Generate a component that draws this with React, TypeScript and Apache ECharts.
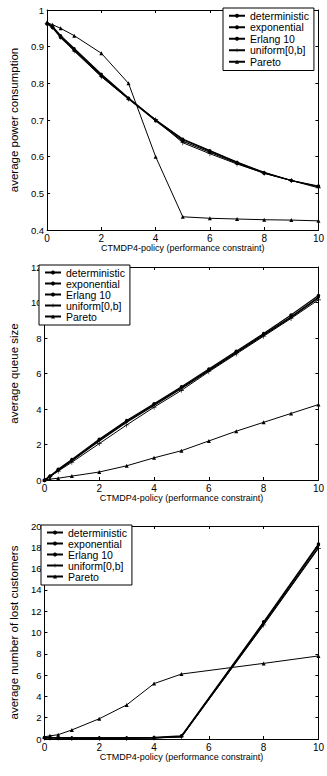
import React, { useEffect, useRef } from "react";
import * as echarts from "echarts";

const seriesNames = ["deterministic", "exponential", "Erlang 10", "uniform[0,b]", "Pareto"];
const xLabel = "CTMDP4-policy (performance constraint)";
const yLabels = ["average power consumption", "average queue size", "average number of lost customers"];

// Chart 1: average power consumption
const powerX = [0, 0.2, 0.5, 1, 2, 3, 4, 5, 6, 7, 8, 9, 10];
const powerDeterministic = [0.965, 0.955, 0.93, 0.895, 0.825, 0.76, 0.7, 0.648, 0.617, 0.585, 0.557, 0.535, 0.518];
const powerExponential = [0.962, 0.952, 0.925, 0.89, 0.82, 0.758, 0.698, 0.642, 0.612, 0.582, 0.555, 0.535, 0.52];
const powerErlang = [0.965, 0.954, 0.928, 0.893, 0.823, 0.759, 0.7, 0.646, 0.615, 0.584, 0.556, 0.535, 0.518];
const powerUniform = [0.964, 0.953, 0.927, 0.888, 0.818, 0.757, 0.701, 0.638, 0.608, 0.58, 0.555, 0.535, 0.515];
const powerPareto = [0.965, 0.96, 0.95, 0.93, 0.882, 0.8, 0.6, 0.436, 0.432, 0.43, 0.428, 0.427, 0.425];

// Chart 2: average queue size
const queueX = [0, 0.2, 0.5, 1, 2, 3, 4, 5, 6, 7, 8, 9, 10];
const queueDeterministic = [0, 0.2, 0.55, 1.1, 2.25, 3.3, 4.25, 5.2, 6.2, 7.2, 8.2, 9.2, 10.3];
const queueExponential = [0, 0.22, 0.6, 1.15, 2.3, 3.35, 4.3, 5.25, 6.25, 7.25, 8.25, 9.3, 10.4];
const queueErlang = [0, 0.2, 0.55, 1.08, 2.2, 3.25, 4.2, 5.15, 6.15, 7.15, 8.15, 9.15, 10.25];
const queueUniform = [0, 0.18, 0.5, 1.0, 2.05, 3.1, 4.1, 5.05, 6.1, 7.1, 8.1, 9.1, 10.15];
const queuePareto = [0, 0.05, 0.1, 0.22, 0.45, 0.8, 1.25, 1.65, 2.2, 2.75, 3.25, 3.75, 4.25];

// Chart 3: average number of lost customers
const lostX = [0, 0.2, 0.5, 1, 2, 3, 4, 5, 8, 10];
const lostDeterministic = [0.1, 0.1, 0.1, 0.1, 0.1, 0.1, 0.1, 0.25, 10.9, 18.2];
const lostExponential = [0.15, 0.15, 0.1, 0.1, 0.1, 0.1, 0.15, 0.3, 11.0, 18.3];
const lostErlang = [0.1, 0.1, 0.1, 0.1, 0.1, 0.1, 0.1, 0.2, 10.8, 18.0];
const lostUniform = [0.1, 0.1, 0.1, 0.05, 0.05, 0.05, 0.1, 0.2, 10.7, 17.9];
const lostPareto = [0.2, 0.3, 0.4, 0.85, 1.9, 3.2, 5.2, 6.1, 7.1, 7.8];

const xTicks = { min: 0, max: 10, interval: 2 };
const yRanges = [
  { min: 0.4, max: 1, interval: 0.1 },
  { min: 0, max: 12, interval: 2 },
  { min: 0, max: 20, interval: 2 },
];

const FONT = "Liberation Sans, Arial, Helvetica, sans-serif";
const PLUS = "path://M4.4,0H5.6V4.4H10V5.6H5.6V10H4.4V5.6H0V4.4H4.4Z";
const symbols = [
  { symbol: "circle", size: 3, width: 1.2 },
  { symbol: "circle", size: 3.5, width: 1.2 },
  { symbol: "none", size: 0, width: 1.2 },
  { symbol: PLUS, size: 5, width: 1 },
  { symbol: "triangle", size: 4, width: 1 },
];

const zip = (xs: number[], ys: number[]) => xs.map((x, i) => [x, ys[i]]);

const chartData = [
  { x: powerX, ys: [powerDeterministic, powerExponential, powerErlang, powerUniform, powerPareto] },
  { x: queueX, ys: [queueDeterministic, queueExponential, queueErlang, queueUniform, queuePareto] },
  { x: lostX, ys: [lostDeterministic, lostExponential, lostErlang, lostUniform, lostPareto] },
];

const grids = [
  { left: 39, top: 10, width: 281, height: 220 },
  { left: 39, top: 267, width: 280, height: 213 },
  { left: 42, top: 526, width: 279, height: 213 },
];
const legends = [
  { left: 223, top: 8, lh: 11.5 },
  { left: 39, top: 265, lh: 10.6 },
  { left: 41, top: 525, lh: 10.8 },
];

const fmt = (v: number) => String(+v.toFixed(2));

export default function App() {
  const ref = useRef<HTMLDivElement>(null);
  useEffect(() => {
    if (!ref.current) return;
    const chart = echarts.init(ref.current, null, { renderer: "svg" });
    const xAxis: any[] = [];
    const yAxis: any[] = [];
    const series: any[] = [];
    grids.forEach((g, gi) => {
      xAxis.push({
        type: "value",
        gridIndex: gi,
        ...xTicks,
        position: "bottom",
        name: xLabel,
        nameLocation: "middle",
        nameGap: 13,
        nameTextStyle: { fontFamily: FONT, fontSize: 9, color: "#000" },
        axisLine: { show: true, onZero: false, lineStyle: { color: "#000", width: 1 } },
        axisTick: { show: true, inside: true, length: 3, lineStyle: { color: "#000" } },
        axisLabel: { fontFamily: FONT, fontSize: 10, color: "#000", margin: 3, formatter: fmt },
        splitLine: { show: false },
      });
      xAxis.push({
        type: "value",
        gridIndex: gi,
        ...xTicks,
        position: "top",
        axisLine: { show: true, onZero: false, lineStyle: { color: "#000", width: 1 } },
        axisTick: { show: true, inside: true, length: 3, lineStyle: { color: "#000" } },
        axisLabel: { show: false },
        splitLine: { show: false },
      });
      yAxis.push({
        type: "value",
        gridIndex: gi,
        ...yRanges[gi],
        position: "left",
        name: yLabels[gi],
        nameLocation: "middle",
        nameGap: 15,
        nameRotate: 90,
        nameTextStyle: { fontFamily: FONT, fontSize: 11.5, color: "#000" },
        axisLine: { show: true, onZero: false, lineStyle: { color: "#000", width: 1 } },
        axisTick: { show: true, inside: true, length: 3, lineStyle: { color: "#000" } },
        axisLabel: { fontFamily: FONT, fontSize: 9.5, color: "#000", margin: 3, formatter: fmt },
        splitLine: { show: false },
      });
      yAxis.push({
        type: "value",
        gridIndex: gi,
        ...yRanges[gi],
        position: "right",
        axisLine: { show: true, onZero: false, lineStyle: { color: "#000", width: 1 } },
        axisTick: { show: true, inside: true, length: 3, lineStyle: { color: "#000" } },
        axisLabel: { show: false },
        splitLine: { show: false },
      });
      const d = chartData[gi];
      seriesNames.forEach((name, si) => {
        const s = symbols[si];
        series.push({
          type: "line",
          name,
          xAxisIndex: gi * 2,
          yAxisIndex: gi * 2,
          data: zip(d.x, d.ys[si]),
          symbol: s.symbol,
          symbolSize: s.size,
          showSymbol: s.symbol !== "none",
          lineStyle: { color: "#000", width: s.width },
          itemStyle: { color: "#000", borderColor: "#000", borderWidth: 0 },
          emphasis: { disabled: true },
          z: 5 - si,
        });
      });
    });
    chart.setOption({
      animation: false,
      backgroundColor: "#fff",
      grid: grids.map((g) => ({ ...g, containLabel: false })),
      xAxis,
      yAxis,
      legend: legends.map((l) => ({
        left: l.left,
        top: l.top,
        orient: "vertical",
        data: seriesNames,
        selectedMode: false,
        backgroundColor: "#fff",
        borderColor: "#000",
        borderWidth: 1,
        borderRadius: 0,
        padding: [2, 5, 3, 5],
        itemGap: 0,
        itemWidth: 16,
        itemHeight: 5,
        textStyle: { fontFamily: FONT, fontSize: 10.5, color: "#000", lineHeight: l.lh },
      })),
      series,
    });
    return () => chart.dispose();
  }, []);
  return (
    <div
      ref={ref}
      style={{ position: "absolute", left: 0, top: 0, width: 327, height: 776, background: "#fff" }}
    />
  );
}
